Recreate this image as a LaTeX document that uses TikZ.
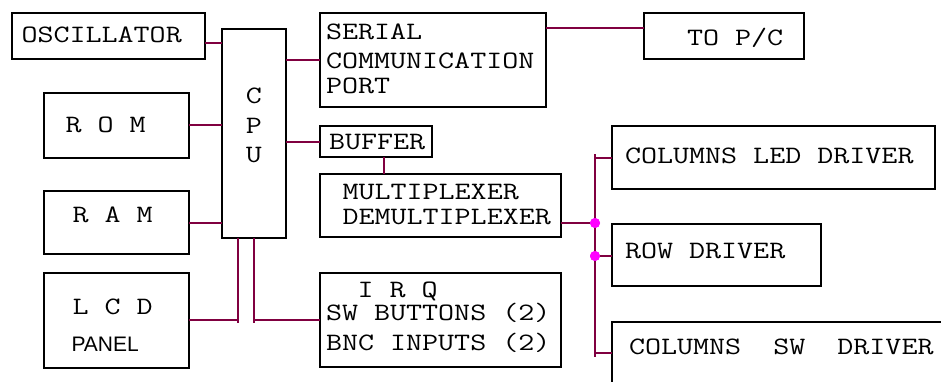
\documentclass[tikz,border=0pt]{standalone}
\usepackage{fontspec}
\setmainfont{Latin Modern Mono}[FakeStretch=1.245]
\newfontfamily\panelfont{Liberation Sans}
\definecolor{wirecol}{RGB}{128,0,64}
\definecolor{dotcol}{RGB}{255,0,255}
\begin{document}
\begin{tikzpicture}[x=1pt,y=-1pt,
  blk/.style={draw=black,line width=2.8pt,inner sep=0pt,outer sep=0pt,anchor=north west},
  wire/.style={draw=wirecol,line width=2.4pt},
  lbl/.style={inner sep=0pt,outer sep=0pt,anchor=base west,font=\fontsize{25}{30}\selectfont},
  junction/.style={circle,fill=dotcol,inner sep=0pt,minimum size=10pt}]
\clip (0,0) rectangle (941,381);

% blocks
\node[blk,minimum width=193pt,minimum height=46pt] (osc) at (12,13) {};
\node[blk,minimum width=64pt,minimum height=209pt] (cpu) at (222,29) {};
\node[blk,minimum width=145pt,minimum height=65pt] (rom) at (44,93) {};
\node[blk,minimum width=145pt,minimum height=63pt] (ram) at (44,191) {};
\node[blk,minimum width=145pt,minimum height=95pt] (lcd) at (44,273) {};
\node[blk,minimum width=226pt,minimum height=94pt] (ser) at (320,13) {};
\node[blk,minimum width=160pt,minimum height=46pt] (topc) at (644,13) {};
\node[blk,minimum width=112pt,minimum height=31pt] (buf) at (320,126) {};
\node[blk,minimum width=241pt,minimum height=63pt] (mux) at (320,174) {};
\node[blk,minimum width=241pt,minimum height=94pt] (irq) at (320,273) {};
\node[blk,minimum width=323pt,minimum height=63pt] (led) at (612,126) {};
\node[blk,minimum width=209pt,minimum height=62pt] (row) at (612,224) {};
\node[blk,minimum width=380pt,minimum height=100pt] (csw) at (612,322) {};

% labels
\node[lbl] (toscl) at (21.5,42) {OSCILLATOR};
\node[lbl] (tser1) at (326,39.5) {SERIAL};
\node[lbl] (tser2) at (326,68) {COMMUNICATION};
\node[lbl] (tser3) at (326,93) {PORT};
\node[lbl] (ttopc) at (687,45) {TO P/C};
\node[lbl] (trom) at (65.5,132) {R O M};
\node[lbl,anchor=base] (tc) at (254,103) {C};
\node[lbl,anchor=base] (tp) at (254,133) {P};
\node[lbl,anchor=base] (tu) at (254,162) {U};
\node[lbl] (tbuf) at (329,149) {BUFFER};
\node[lbl] (tmux1) at (342.5,199) {MULTIPLEXER};
\node[lbl] (tmux2) at (342.5,224) {DEMULTIPLEXER};
\node[lbl] (tram) at (72.5,222) {R A M};
\node[lbl] (tlcd) at (72.5,314) {L C D};
\node[lbl,font=\panelfont\fontsize{21}{24}\selectfont] (tpanel) at (71.5,351) {PANEL};
\node[lbl] (tirq1) at (357.5,297) {I R Q};
\node[lbl] (tirq2) at (326,320) {SW BUTTONS (2)};
\node[lbl] (tirq3) at (326,350) {BNC INPUTS (2)};
\node[lbl] (tled) at (625,163) {COLUMNS LED DRIVER};
\node[lbl] (trow) at (625,258) {ROW DRIVER};
\node[lbl] (tcsw) at (629,354) {COLUMNS\ \ SW\ \ DRIVER};

% connections around the CPU
\draw[wire] (osc.east |- 0,43) -- (cpu.west |- 0,43);
\draw[wire] (cpu.east |- 0,60) -- (ser.west |- 0,60);
\draw[wire] (ser.east |- 0,28) -- (topc.west |- 0,28);
\draw[wire] (rom.east |- 0,125) -- (cpu.west |- 0,125);
\draw[wire] (cpu.east |- 0,142) -- (buf.west |- 0,142);
\draw[wire] (buf.south -| 384,0) -- (mux.north -| 384,0);
\draw[wire] (ram.east |- 0,223) -- (cpu.west |- 0,223);

% CPU bus to LCD panel and IRQ block
\coordinate (jl) at (238,320);
\coordinate (ji) at (254,320);
\draw[wire] (cpu.south -| jl) -- ([yshift=-3pt]jl);
\draw[wire] (lcd.east |- jl) -- (jl);
\draw[wire] (cpu.south -| ji) -- ([yshift=-3pt]ji);
\draw[wire] (ji) -- (irq.west |- ji);

% driver bus
\coordinate (bt) at (595,154);
\coordinate (bb) at (595,357);
\node[junction] (d1) at (595,223) {};
\node[junction] (d2) at (595,256) {};
\draw[wire] (bt) -- (bb);
\draw[wire] (mux.east |- d1) -- (d1);
\draw[wire] (bt |- 0,158) -- (led.west |- 0,158);
\draw[wire] (d2) -- (row.west |- d2);
\draw[wire] (bb |- 0,353) -- (csw.west |- 0,353);
\node[junction] at (d1) {};
\node[junction] at (d2) {};
\end{tikzpicture}
\end{document}
